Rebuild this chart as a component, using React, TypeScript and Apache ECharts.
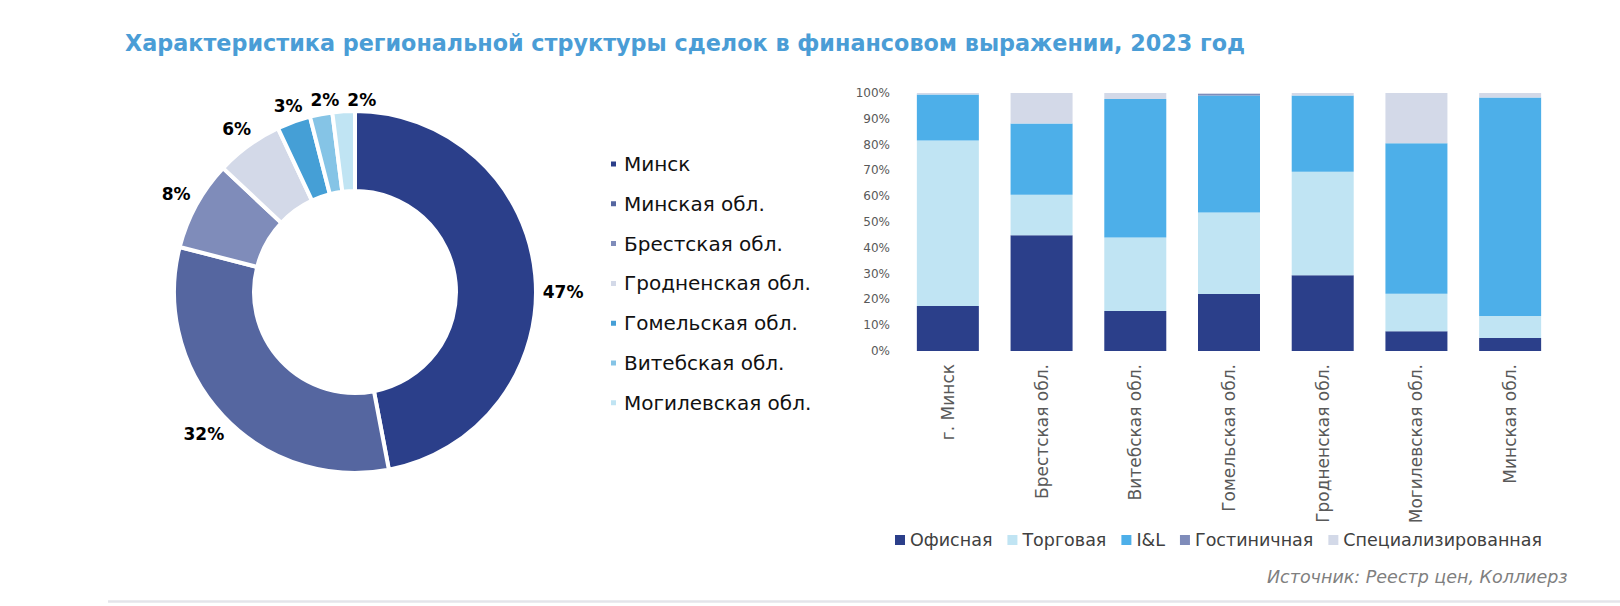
import React, { useEffect, useRef } from "react";
import * as echarts from "echarts";

const titleText = "Характеристика региональной структуры сделок в финансовом выражении, 2023 год";
const sourceText = "Источник: Реестр цен, Коллиерз";

const regions = [
  "Минск",
  "Минская обл.",
  "Брестская обл.",
  "Гродненская обл.",
  "Гомельская обл.",
  "Витебская обл.",
  "Могилевская обл.",
];
const regionShares = [47, 32, 8, 6, 3, 2, 2];
const regionColors = ["#2B3F8A", "#5566A0", "#7F8CBA", "#D3D9E8", "#459FD6", "#85C4E6", "#C0E4F3"];

const barCategories = [
  "г. Минск",
  "Брестская обл.",
  "Витебская обл.",
  "Гомельская обл.",
  "Гродненская обл.",
  "Могилевская обл.",
  "Минская обл.",
];
const segmentNames = ["Офисная", "Торговая", "I&L", "Гостиничная", "Специализированная"];
const officeShare = [17.4, 44.9, 15.5, 22.1, 29.4, 7.7, 5.0];
const retailShare = [64.2, 15.7, 28.5, 31.6, 40.1, 14.5, 8.6];
const ilShare = [17.8, 27.6, 53.7, 45.3, 29.5, 58.3, 84.7];
const hotelShare = [0, 0, 0, 0.7, 0, 0, 0];
const specialShare = [0.6, 11.8, 2.3, 0.3, 1.0, 19.5, 1.7];
const segmentColors = ["#2B3F8A", "#C0E4F3", "#4DAFE9", "#7F8CBA", "#D3D9E8"];

const FONT = "'DejaVu Sans', sans-serif";

export default function App() {
  const ref = useRef<HTMLDivElement>(null);
  useEffect(() => {
    document.body.style.margin = "0";
    if (!ref.current) return;
    const chart = echarts.init(ref.current, undefined, { renderer: "svg" });
    const cx = 355;
    const cy = 292;
    const rOut = 181;
    const total = regionShares.reduce((a, b) => a + b, 0);
    const segData = [officeShare, retailShare, ilShare, hotelShare, specialShare];
    let placed: { x: number; y: number; w: number; h: number }[] = [];

    chart.setOption({
      animation: false,
      backgroundColor: "#ffffff",
      textStyle: { fontFamily: FONT },
      title: [
        {
          text: titleText,
          left: 120,
          top: 27,
          textStyle: { fontFamily: FONT, fontSize: 22.3, fontWeight: "bold", color: "#4A9DD6" },
        },
        {
          text: sourceText,
          left: 1262,
          top: 563,
          textStyle: { fontFamily: FONT, fontSize: 17.5, fontWeight: "normal", fontStyle: "italic", color: "#7F7F7F" },
        },
      ],
      legend: [
        {
          orient: "vertical",
          left: 604,
          top: 148,
          icon: "rect",
          itemWidth: 7,
          itemHeight: 7,
          itemGap: 17.8,
          data: regions,
          textStyle: { fontFamily: FONT, fontSize: 20, color: "#111111", lineHeight: 22, padding: [0, 0, 0, 2] },
        },
        {
          orient: "horizontal",
          left: 890,
          top: 526,
          icon: "rect",
          itemWidth: 10,
          itemHeight: 10,
          itemGap: 15,
          data: segmentNames,
          textStyle: { fontFamily: FONT, fontSize: 17.5, color: "#404040" },
        },
      ],
      grid: { left: 901, right: 63, top: 93, bottom: 255, containLabel: false },
      xAxis: {
        type: "category",
        data: barCategories,
        axisLine: { show: false },
        axisTick: { show: false },
        axisLabel: { rotate: 90, margin: 13, fontFamily: FONT, fontSize: 17, color: "#595959" },
      },
      yAxis: {
        type: "value",
        min: 0,
        max: 100,
        interval: 10,
        splitLine: { show: false },
        axisLine: { show: false },
        axisTick: { show: false },
        axisLabel: { formatter: "{value}%", margin: 11, fontFamily: FONT, fontSize: 12, color: "#595959" },
      },
      graphic: [
        {
          type: "line",
          shape: { x1: 108, y1: 601.5, x2: 1620, y2: 601.5 },
          style: { stroke: "#E4E4EA", lineWidth: 2.5 },
          silent: true,
        },
      ],
      series: [
        {
          type: "pie",
          name: "regions",
          center: [cx, cy],
          radius: [101, rOut],
          startAngle: 90,
          clockwise: true,
          avoidLabelOverlap: false,
          legendHoverLink: false,
          itemStyle: { borderColor: "#ffffff", borderWidth: 4 },
          label: {
            show: true,
            position: "outside",
            formatter: "{c}%",
            fontFamily: FONT,
            fontSize: 17,
            fontWeight: "bold",
            color: "#000000",
          },
          labelLine: { show: false, length: 4, length2: 0 },
          labelLayout: (params: any) => {
            const i = params.dataIndex;
            if (i === 0) placed = [];
            let before = 0;
            for (let k = 0; k < i; k++) before += regionShares[k];
            const mid = ((before + regionShares[i] / 2) / total) * Math.PI * 2;
            const s = Math.sin(mid);
            const c = Math.cos(mid);
            const w = params.labelRect.width;
            const h = params.labelRect.height;
            const d = rOut + 2 + Math.abs(s) * (w / 2 + 5) + Math.abs(c) * (h / 2);
            let x = cx + s * d;
            let y = cy - c * d;
            if (Math.abs(c) < 0.15) y = cy;
            for (const p of placed) {
              const overlapY = Math.abs(p.y - y) < (p.h + h) / 2;
              const overlapX = Math.abs(p.x - x) < (p.w + w) / 2 + 8;
              if (overlapY && overlapX && x > p.x - 1) {
                x = p.x + (p.w + w) / 2 + 8;
              }
            }
            placed.push({ x, y, w, h });
            return { x, y, align: "center", verticalAlign: "middle" };
          },
          data: regions.map((name, i) => ({
            name,
            value: regionShares[i],
            itemStyle: { color: regionColors[i] },
          })),
        },
        ...segmentNames.map((name, si) => ({
          type: "bar",
          name,
          stack: "total",
          barWidth: 62,
          itemStyle: { color: segmentColors[si] },
          data: segData[si],
        })),
      ],
    });
    return () => chart.dispose();
  }, []);
  return <div ref={ref} style={{ width: 1620, height: 606 }} />;
}
